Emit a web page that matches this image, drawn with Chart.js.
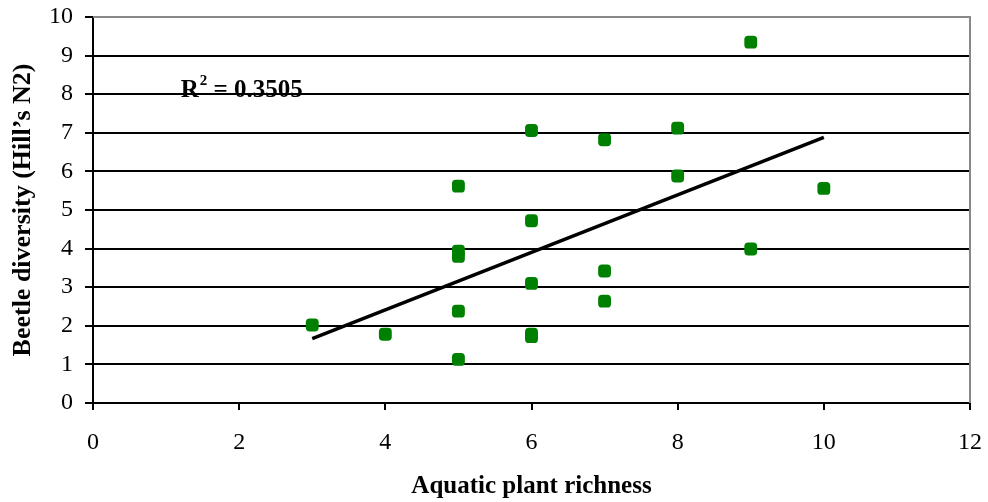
<!DOCTYPE html>
<html>
<head>
<meta charset="utf-8">
<script src="https://cdn.jsdelivr.net/npm/chart.js@4"></script>
<style>
  html, body { margin: 0; padding: 0; background: #fff; }
  #wrap { width: 988px; height: 502px; }
</style>
</head>
<body>
<div id="wrap"><canvas id="chart" width="988" height="502"></canvas></div>
<script>
// plant richness (x) and beetle diversity (y) for each site
const plantRichness = [3, 4, 5, 5, 5, 5, 5, 6, 6, 6, 6, 6, 7, 7, 7, 8, 8, 9, 9, 10];
const beetleDiversity = [2.02, 1.78, 5.62, 3.93, 3.8, 2.38, 1.13, 7.06, 4.72, 3.1, 1.78, 1.72, 6.82, 3.42, 2.64, 7.12, 5.88, 9.35, 3.99, 5.56];

// trend line end points
const trendX = [3, 10];
const trendY = [1.67, 6.88];

const xTicks = [0, 2, 4, 6, 8, 10, 12];
const yTicks = [0, 1, 2, 3, 4, 5, 6, 7, 8, 9, 10];
const rSquared = "0.3505";

const serif = "'Liberation Serif', 'Times New Roman', serif";

// R² label drawn over the plot
const r2Label = {
    id: 'r2Label',
    afterDatasetsDraw(chart) {
        const ctx = chart.ctx;
        const x = chart.scales.x.getPixelForValue(1.2);
        const y = chart.scales.y.getPixelForValue(7.93);
        ctx.save();
        ctx.fillStyle = '#000';
        ctx.textBaseline = 'alphabetic';
        ctx.font = "bold 25px " + serif;
        ctx.fillText('R', x, y);
        let w = ctx.measureText('R').width;
        ctx.font = "bold 15px " + serif;
        ctx.fillText('2', x + w + 1, y - 12);
        let w2 = ctx.measureText('2').width;
        ctx.font = "bold 25px " + serif;
        ctx.fillText(' = ' + rSquared, x + w + w2 + 1, y);
        ctx.restore();
    }
};

// grey frame on top and right edges of the plot area
const frame = {
    id: 'frame',
    beforeDatasetsDraw(chart) {
        const a = chart.chartArea;
        const ctx = chart.ctx;
        ctx.save();
        ctx.strokeStyle = '#888';
        ctx.lineWidth = 2;
        ctx.beginPath();
        ctx.moveTo(a.left, a.top);
        ctx.lineTo(a.right, a.top);
        ctx.lineTo(a.right, a.bottom);
        ctx.stroke();
        ctx.restore();
    }
};

new Chart(document.getElementById('chart').getContext('2d'), {
    type: 'scatter',
    data: {
        datasets: [
            {
                label: 'Sites',
                data: plantRichness.map((x, i) => ({ x: x, y: beetleDiversity[i] })),
                backgroundColor: '#008000',
                borderColor: '#008000',
                borderWidth: 0,
                pointStyle: 'rectRounded',
                pointRadius: 7.5,
                order: 2
            },
            {
                label: 'Trend',
                type: 'line',
                data: trendX.map((x, i) => ({ x: x, y: trendY[i] })),
                borderColor: '#000',
                borderWidth: 3.5,
                pointRadius: 0,
                fill: false,
                order: 1
            }
        ]
    },
    options: {
        responsive: false,
        animation: false,
        events: [],
        layout: { padding: { left: 0, right: 18, top: 17, bottom: 0 } },
        plugins: {
            legend: { display: false },
            tooltip: { enabled: false }
        },
        scales: {
            x: {
                type: 'linear',
                min: 0,
                max: 12,
                afterBuildTicks: (s) => { s.ticks = xTicks.map(v => ({ value: v })); },
                afterFit: (s) => { s.height = 99; s.paddingLeft = 0; s.paddingRight = 0; },
                border: { display: true, color: '#000', width: 2 },
                grid: { drawOnChartArea: false, color: '#000', lineWidth: 2, tickLength: 7 },
                ticks: { color: '#000', font: { family: serif, size: 24 }, padding: 18, maxRotation: 0 },
                title: {
                    display: true,
                    text: 'Aquatic plant richness',
                    color: '#000',
                    font: { family: serif, size: 25, weight: 'bold' },
                    padding: { top: 12, bottom: 0 }
                }
            },
            y: {
                type: 'linear',
                min: 0,
                max: 10,
                afterBuildTicks: (s) => { s.ticks = yTicks.map(v => ({ value: v })); },
                afterFit: (s) => { s.width = 93; s.paddingTop = 0; s.paddingBottom = 0; },
                border: { display: true, color: '#000', width: 2 },
                grid: {
                    color: (c) => c.tick && c.tick.value === 10 ? '#888' : '#000',
                    tickColor: '#000',
                    lineWidth: 2,
                    tickLength: 8
                },
                ticks: { color: '#000', font: { family: serif, size: 24 }, padding: 12 },
                title: {
                    display: true,
                    text: 'Beetle diversity (Hill\u2019s N2)',
                    color: '#000',
                    font: { family: serif, size: 26, weight: 'bold' },
                    padding: { top: 8, bottom: 0 }
                }
            }
        }
    },
    plugins: [frame, r2Label]
});
</script>
</body>
</html>
